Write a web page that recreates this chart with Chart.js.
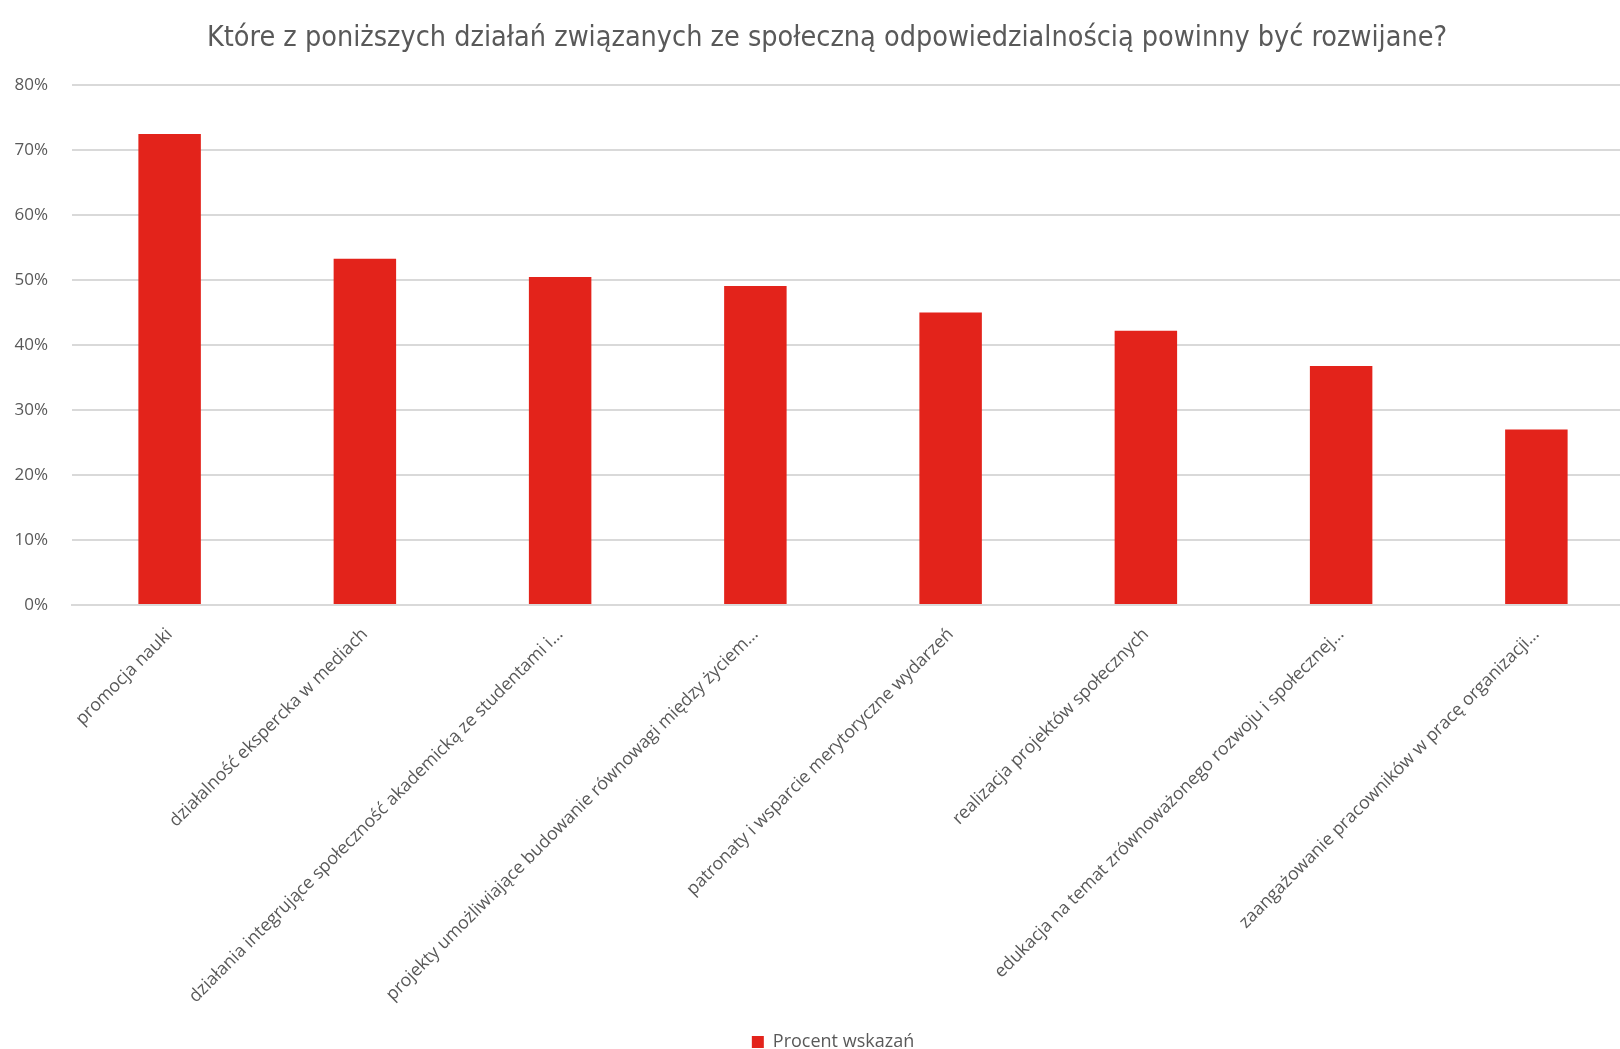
<!DOCTYPE html>
<html lang="pl">
<head>
<meta charset="utf-8">
<title>Działania CSR</title>
<script src="https://cdn.jsdelivr.net/npm/chart.js@4/dist/chart.umd.min.js"></script>
<style>
  html, body { margin: 0; padding: 0; background: #ffffff; overflow: hidden; }
  /* the plot area runs a little past the right edge of the page */
  #wrap { width: 1620px; height: 1049px; overflow: hidden; }
</style>
</head>
<body>
<div id="wrap"><canvas id="c" width="1634" height="1049"></canvas></div>
<script>
const chartTitle = 'Które z poniższych działań związanych ze społeczną odpowiedzialnością powinny być rozwijane?';
const seriesName = 'Procent wskazań';
const categories = [
  'promocja nauki',
  'działalność ekspercka w mediach',
  'działania integrujące społeczność akademicką ze studentami i…',
  'projekty umożliwiające budowanie równowagi między życiem…',
  'patronaty i wsparcie merytoryczne wydarzeń',
  'realizacja projektów społecznych',
  'edukacja na temat zrównoważonego rozwoju i społecznej…',
  'zaangażowanie pracowników w pracę organizacji…'
];
const percentValues = [72.5, 53.3, 50.5, 49.1, 45.0, 42.2, 36.8, 27.0];
const yTickValues = [0, 10, 20, 30, 40, 50, 60, 70, 80];

const textGray = '#595959';
const barRed = '#E3231B';
const gridGray = '#d9d9d9';

// nudge the title and legend blocks sideways after layout
const blockShift = {
  id: 'blockShift',
  afterLayout(chart) {
    if (chart.titleBlock) { chart.titleBlock.left += 10; chart.titleBlock.right += 10; }
    if (chart.legend) { chart.legend.left += 16; chart.legend.right += 16; }
  }
};

new Chart(document.getElementById('c'), {
  type: 'bar',
  plugins: [blockShift],
  data: {
    labels: categories,
    datasets: [{
      label: seriesName,
      data: percentValues,
      backgroundColor: barRed,
      borderWidth: 0,
      barPercentage: 0.32,
      categoryPercentage: 1.0
    }]
  },
  options: {
    responsive: false,
    animation: false,
    devicePixelRatio: 1,
    layout: { padding: { left: 0, right: 0, top: 8, bottom: -12 } },
    plugins: {
      title: {
        display: true,
        text: chartTitle,
        color: textGray,
        font: { family: '"Liberation Sans Narrow", "DejaVu Sans Condensed", sans-serif', size: 28.5, weight: 'normal' },
        padding: { top: 13, bottom: 30 }
      },
      legend: {
        display: true,
        position: 'bottom',
        labels: {
          color: textGray,
          font: { family: '"Open Sans", sans-serif', size: 18 },
          boxWidth: 12,
          boxHeight: 12,
          padding: 0
        }
      },
      tooltip: { enabled: false }
    },
    scales: {
      x: {
        grid: { display: false, drawTicks: false },
        border: { display: true, color: gridGray, width: 2 },
        ticks: {
          color: textGray,
          font: { family: '"Open Sans", sans-serif', size: 17.7 },
          maxRotation: 45,
          minRotation: 45,
          autoSkip: false,
          padding: 19
        },
        afterFit(scale) { scale.height = 428; }
      },
      y: {
        min: 0,
        max: 80,
        afterBuildTicks(scale) { scale.ticks = yTickValues.map(v => ({ value: v })); },
        grid: { color: gridGray, lineWidth: 2, drawTicks: false },
        border: { display: false },
        ticks: {
          color: textGray,
          font: { family: '"Open Sans", sans-serif', size: 17 },
          padding: 24,
          callback: v => v + '%'
        },
        afterFit(scale) { scale.width = 72; }
      }
    }
  }
});
</script>
</body>
</html>
